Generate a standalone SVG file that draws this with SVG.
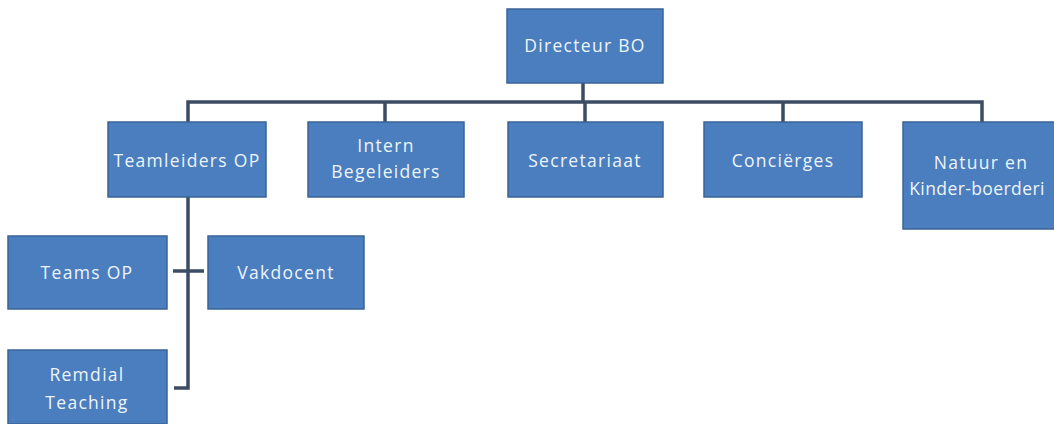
<svg xmlns="http://www.w3.org/2000/svg" width="1054" height="424" viewBox="0 0 1054 424">
<style>
.box{fill:#4a7ebe;stroke:#3a6496;stroke-width:1.5}
.t{font-family:"Open Sans","Liberation Sans",sans-serif;font-size:17.5px;letter-spacing:1.3px;fill:#eef4fb;text-anchor:middle;dominant-baseline:central}
.c{fill:none;stroke:#3b4c63;stroke-width:3.5}
</style>
<rect width="1054" height="424" fill="#ffffff"/>
<g id="connectors">
<path class="c" d="M583 83 V102"/>
<path class="c" d="M188 122 V102 H982 V122"/>
<path class="c" d="M385 102 V122 M585 102 V122 M783 102 V122"/>
<path class="c" d="M188 197 V388 H174"/>
<path class="c" d="M173 271 H204"/>
</g>
<g id="directeur"><rect class="box" x="507" y="9" width="156" height="74"/><text class="t" x="585" y="45">Directeur BO</text></g>
<g id="teamleiders"><rect class="box" x="108" y="122" width="158" height="75"/><text class="t" x="187" y="160">Teamleiders OP</text></g>
<g id="intern"><rect class="box" x="308" y="122" width="156" height="75"/><text class="t" x="386" y="145">Intern</text><text class="t" x="386" y="171">Begeleiders</text></g>
<g id="secretariaat"><rect class="box" x="508" y="122" width="155" height="75"/><text class="t" x="585" y="160">Secretariaat</text></g>
<g id="concierges"><rect class="box" x="704" y="122" width="158" height="75"/><text class="t" x="783" y="160">Conciërges</text></g>
<g id="natuur"><rect class="box" x="903" y="122" width="160" height="107"/><text class="t" x="981" y="162">Natuur en</text><text class="t" x="977" y="188" style="letter-spacing:0.4px">Kinder-boerderi</text></g>
<g id="teams"><rect class="box" x="8" y="236" width="159" height="73"/><text class="t" x="87" y="272">Teams OP</text></g>
<g id="vakdocent"><rect class="box" x="208" y="236" width="156" height="73"/><text class="t" x="286" y="272">Vakdocent</text></g>
<g id="remedial"><rect class="box" x="8" y="350" width="159" height="74"/><text class="t" x="87" y="374">Remdial</text><text class="t" x="87" y="402">Teaching</text></g>
</svg>
